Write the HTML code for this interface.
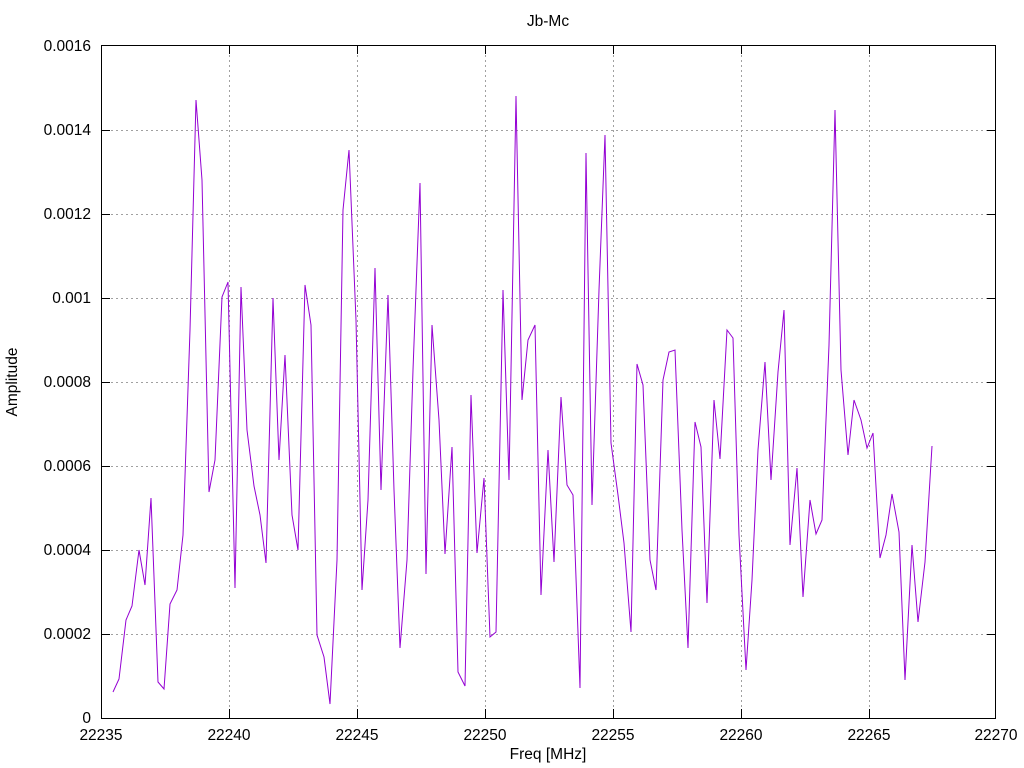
<!DOCTYPE html>
<html><head><meta charset="utf-8"><style>body{margin:0;background:#fff}svg{display:block}</style></head>
<body>
<svg width="1024" height="768" xmlns="http://www.w3.org/2000/svg" font-family="Liberation Sans, sans-serif" font-size="15.5">
<g stroke="#a0a0a0" stroke-dasharray="2,3" stroke-width="1">
<line x1="101" y1="634.5" x2="996" y2="634.5"/><line x1="101" y1="550.5" x2="996" y2="550.5"/><line x1="101" y1="466.5" x2="996" y2="466.5"/><line x1="101" y1="382.5" x2="996" y2="382.5"/><line x1="101" y1="298.5" x2="996" y2="298.5"/><line x1="101" y1="214.5" x2="996" y2="214.5"/><line x1="101" y1="130.5" x2="996" y2="130.5"/>
<line x1="229.5" y1="45" x2="229.5" y2="718"/><line x1="357.5" y1="45" x2="357.5" y2="718"/><line x1="485.5" y1="45" x2="485.5" y2="718"/><line x1="613.5" y1="45" x2="613.5" y2="718"/><line x1="741.5" y1="45" x2="741.5" y2="718"/><line x1="869.5" y1="45" x2="869.5" y2="718"/>
</g>
<rect x="101.5" y="45.5" width="894" height="673" fill="none" stroke="#000" stroke-width="1"/>
<g stroke="#000">
<line x1="101" y1="634.5" x2="110" y2="634.5"/><line x1="101" y1="550.5" x2="110" y2="550.5"/><line x1="101" y1="466.5" x2="110" y2="466.5"/><line x1="101" y1="382.5" x2="110" y2="382.5"/><line x1="101" y1="298.5" x2="110" y2="298.5"/><line x1="101" y1="214.5" x2="110" y2="214.5"/><line x1="101" y1="130.5" x2="110" y2="130.5"/>
<line x1="987" y1="634.5" x2="996" y2="634.5"/><line x1="987" y1="550.5" x2="996" y2="550.5"/><line x1="987" y1="466.5" x2="996" y2="466.5"/><line x1="987" y1="382.5" x2="996" y2="382.5"/><line x1="987" y1="298.5" x2="996" y2="298.5"/><line x1="987" y1="214.5" x2="996" y2="214.5"/><line x1="987" y1="130.5" x2="996" y2="130.5"/>
<line x1="229.5" y1="718" x2="229.5" y2="709"/><line x1="357.5" y1="718" x2="357.5" y2="709"/><line x1="485.5" y1="718" x2="485.5" y2="709"/><line x1="613.5" y1="718" x2="613.5" y2="709"/><line x1="741.5" y1="718" x2="741.5" y2="709"/><line x1="869.5" y1="718" x2="869.5" y2="709"/>
<line x1="229.5" y1="45" x2="229.5" y2="54"/><line x1="357.5" y1="45" x2="357.5" y2="54"/><line x1="485.5" y1="45" x2="485.5" y2="54"/><line x1="613.5" y1="45" x2="613.5" y2="54"/><line x1="741.5" y1="45" x2="741.5" y2="54"/><line x1="869.5" y1="45" x2="869.5" y2="54"/>
</g>
<g text-anchor="end">
<text x="91" y="723">0</text><text x="91" y="639">0.0002</text><text x="91" y="555">0.0004</text><text x="91" y="471">0.0006</text><text x="91" y="387">0.0008</text><text x="91" y="303">0.001</text><text x="91" y="219">0.0012</text><text x="91" y="135">0.0014</text><text x="91" y="51">0.0016</text>
</g>
<g text-anchor="middle">
<text x="101" y="740">22235</text><text x="229" y="740">22240</text><text x="357" y="740">22245</text><text x="485" y="740">22250</text><text x="613" y="740">22255</text><text x="741" y="740">22260</text><text x="869" y="740">22265</text><text x="996" y="740">22270</text>
<text x="548" y="759">Freq [MHz]</text>
<text x="548" y="26">Jb-Mc</text>
<text transform="translate(17,382) rotate(-90)">Amplitude</text>
</g>
<polyline fill="none" stroke="#9400d3" stroke-width="1" points="113,692 119,679 126,620 132,606 139,550 145,585 151,498 158,682 164,689 170,604 177,590 183,535 190,330 196,100 202,180 209,492 215,460 222,297 228,282 235,588 241,287 247,430 254,486 260,515 266,563 273,298 279,460 285,355 292,515 298,550 305,285 311,325 317,635 324,657 330,704 337,560 343,210 349,150 356,320 362,590 368,500 375,268 381,490 388,295 394,490 400,648 407,560 413,370 420,183 426,574 432,325 439,420 445,554 452,447 458,672 465,686 471,395 477,553 484,478 490,637 496,632 503,290 509,480 516,96 522,400 528,340 535,325 541,595 548,450 554,562 561,397 567,485 573,495 580,688 586,153 592,505 599,290 605,135 611,443 618,495 624,543 631,632 637,364 643,385 650,560 656,590 663,380 669,352 675,350 682,530 688,648 695,422 701,447 707,603 714,400 720,459 727,330 733,338 739,535 746,670 752,580 758,450 765,362 771,480 778,372 784,310 790,545 797,468 803,597 810,500 816,534 822,520 829,345 835,110 841,370 848,455 854,400 861,420 867,448 873,433 880,558 886,535 892,494 899,532 905,680 912,545 918,622 925,562 932,446"/>
</svg>
</body></html>
